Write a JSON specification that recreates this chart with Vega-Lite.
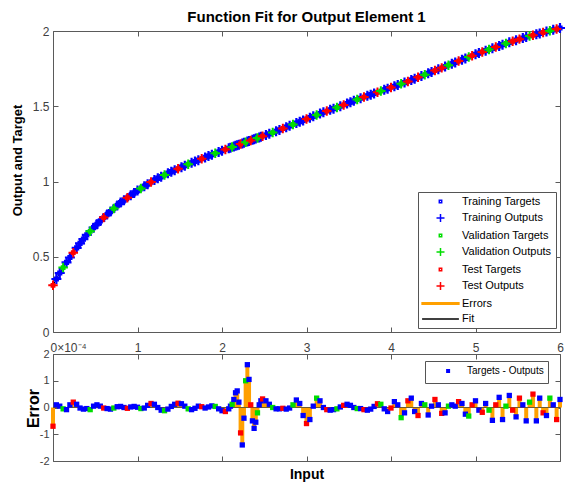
{
  "$schema": "https://vega.github.io/schema/vega-lite/v6.json",
  "autosize": {"type": "pad"},
  "padding": {"left": 10, "top": 9, "right": 0, "bottom": 0},
  "bounds": "flush",
  "spacing": 22,
  "config": {
    "font": "Liberation Sans",
    "view": {"stroke": "#5a5a5a", "strokeWidth": 1},
    "axis": {
      "domain": false, "grid": false, "tickColor": "#5a5a5a", "tickSize": -5, "tickWidth": 1,
      "labelFont": "Liberation Sans", "labelFontSize": 12, "labelColor": "#404040", "labelFlush": false, "labelOverlap": false,
      "titleFont": "Liberation Sans", "titleFontWeight": "bold", "titleColor": "#000000"
    },
    "legend": {"labelFont": "Liberation Sans", "labelColor": "#000000"}
  },
  "datasets": {
    "pts": [
      {"x":0.00,"y":0.310,"e":-0.70,"t":"Test Targets","o":"Test Outputs"},
      {"x":0.04,"y":0.352,"e":0.10,"t":"Training Targets","o":"Training Outputs"},
      {"x":0.08,"y":0.392,"e":0.05,"t":"Training Targets","o":"Training Outputs"},
      {"x":0.12,"y":0.428,"e":-0.05,"t":"Validation Targets","o":"Validation Outputs"},
      {"x":0.16,"y":0.462,"e":-0.08,"t":"Training Targets","o":"Training Outputs"},
      {"x":0.20,"y":0.495,"e":0.10,"t":"Training Targets","o":"Training Outputs"},
      {"x":0.24,"y":0.527,"e":0.20,"t":"Test Targets","o":"Test Outputs"},
      {"x":0.28,"y":0.559,"e":0.12,"t":"Training Targets","o":"Training Outputs"},
      {"x":0.32,"y":0.589,"e":-0.02,"t":"Training Targets","o":"Training Outputs"},
      {"x":0.36,"y":0.617,"e":-0.06,"t":"Training Targets","o":"Training Outputs"},
      {"x":0.40,"y":0.645,"e":-0.04,"t":"Training Targets","o":"Training Outputs"},
      {"x":0.44,"y":0.669,"e":-0.08,"t":"Validation Targets","o":"Validation Outputs"},
      {"x":0.48,"y":0.693,"e":0.05,"t":"Training Targets","o":"Training Outputs"},
      {"x":0.52,"y":0.716,"e":0.10,"t":"Training Targets","o":"Training Outputs"},
      {"x":0.56,"y":0.738,"e":0.05,"t":"Training Targets","o":"Training Outputs"},
      {"x":0.60,"y":0.760,"e":-0.02,"t":"Test Targets","o":"Test Outputs"},
      {"x":0.64,"y":0.780,"e":-0.04,"t":"Training Targets","o":"Training Outputs"},
      {"x":0.68,"y":0.800,"e":-0.06,"t":"Training Targets","o":"Training Outputs"},
      {"x":0.72,"y":0.820,"e":-0.02,"t":"Validation Targets","o":"Validation Outputs"},
      {"x":0.76,"y":0.840,"e":0.03,"t":"Training Targets","o":"Training Outputs"},
      {"x":0.80,"y":0.860,"e":0.04,"t":"Training Targets","o":"Training Outputs"},
      {"x":0.84,"y":0.876,"e":0.00,"t":"Training Targets","o":"Training Outputs"},
      {"x":0.88,"y":0.892,"e":-0.03,"t":"Test Targets","o":"Test Outputs"},
      {"x":0.92,"y":0.908,"e":0.02,"t":"Training Targets","o":"Training Outputs"},
      {"x":0.96,"y":0.924,"e":0.04,"t":"Training Targets","o":"Training Outputs"},
      {"x":1.00,"y":0.940,"e":0.01,"t":"Training Targets","o":"Training Outputs"},
      {"x":1.04,"y":0.954,"e":-0.04,"t":"Validation Targets","o":"Validation Outputs"},
      {"x":1.08,"y":0.968,"e":-0.02,"t":"Training Targets","o":"Training Outputs"},
      {"x":1.12,"y":0.982,"e":0.08,"t":"Training Targets","o":"Training Outputs"},
      {"x":1.16,"y":0.996,"e":0.15,"t":"Test Targets","o":"Test Outputs"},
      {"x":1.20,"y":1.010,"e":0.12,"t":"Training Targets","o":"Training Outputs"},
      {"x":1.24,"y":1.021,"e":0.00,"t":"Training Targets","o":"Training Outputs"},
      {"x":1.28,"y":1.032,"e":-0.10,"t":"Training Targets","o":"Training Outputs"},
      {"x":1.32,"y":1.043,"e":-0.12,"t":"Validation Targets","o":"Validation Outputs"},
      {"x":1.36,"y":1.054,"e":-0.06,"t":"Training Targets","o":"Training Outputs"},
      {"x":1.40,"y":1.065,"e":0.04,"t":"Training Targets","o":"Training Outputs"},
      {"x":1.44,"y":1.075,"e":0.12,"t":"Training Targets","o":"Training Outputs"},
      {"x":1.48,"y":1.085,"e":0.16,"t":"Test Targets","o":"Test Outputs"},
      {"x":1.52,"y":1.095,"e":0.14,"t":"Training Targets","o":"Training Outputs"},
      {"x":1.56,"y":1.105,"e":0.05,"t":"Training Targets","o":"Training Outputs"},
      {"x":1.60,"y":1.115,"e":-0.05,"t":"Validation Targets","o":"Validation Outputs"},
      {"x":1.64,"y":1.124,"e":-0.08,"t":"Training Targets","o":"Training Outputs"},
      {"x":1.68,"y":1.133,"e":-0.03,"t":"Training Targets","o":"Training Outputs"},
      {"x":1.72,"y":1.142,"e":0.05,"t":"Training Targets","o":"Training Outputs"},
      {"x":1.76,"y":1.151,"e":0.03,"t":"Test Targets","o":"Test Outputs"},
      {"x":1.80,"y":1.160,"e":-0.02,"t":"Training Targets","o":"Training Outputs"},
      {"x":1.84,"y":1.169,"e":0.02,"t":"Training Targets","o":"Training Outputs"},
      {"x":1.88,"y":1.178,"e":0.06,"t":"Training Targets","o":"Training Outputs"},
      {"x":1.92,"y":1.187,"e":0.04,"t":"Validation Targets","o":"Validation Outputs"},
      {"x":1.96,"y":1.196,"e":-0.05,"t":"Training Targets","o":"Training Outputs"},
      {"x":2.00,"y":1.205,"e":-0.12,"t":"Training Targets","o":"Training Outputs"},
      {"x":2.04,"y":1.213,"e":-0.15,"t":"Test Targets","o":"Test Outputs"},
      {"x":2.08,"y":1.221,"e":-0.05,"t":"Training Targets","o":"Training Outputs"},
      {"x":2.10,"y":1.225,"e":0.05,"t":"Training Targets","o":"Training Outputs"},
      {"x":2.12,"y":1.229,"e":0.12,"t":"Validation Targets","o":"Validation Outputs"},
      {"x":2.14,"y":1.233,"e":0.30,"t":"Training Targets","o":"Training Outputs"},
      {"x":2.16,"y":1.237,"e":0.55,"t":"Training Targets","o":"Training Outputs"},
      {"x":2.18,"y":1.241,"e":0.62,"t":"Training Targets","o":"Training Outputs"},
      {"x":2.20,"y":1.245,"e":0.20,"t":"Training Targets","o":"Training Outputs"},
      {"x":2.22,"y":1.249,"e":-0.95,"t":"Test Targets","o":"Test Outputs"},
      {"x":2.24,"y":1.253,"e":-1.40,"t":"Training Targets","o":"Training Outputs"},
      {"x":2.26,"y":1.257,"e":-0.40,"t":"Training Targets","o":"Training Outputs"},
      {"x":2.28,"y":1.261,"e":1.00,"t":"Validation Targets","o":"Validation Outputs"},
      {"x":2.30,"y":1.265,"e":1.60,"t":"Training Targets","o":"Training Outputs"},
      {"x":2.32,"y":1.269,"e":1.05,"t":"Training Targets","o":"Training Outputs"},
      {"x":2.34,"y":1.273,"e":0.10,"t":"Test Targets","o":"Test Outputs"},
      {"x":2.36,"y":1.277,"e":-0.50,"t":"Training Targets","o":"Training Outputs"},
      {"x":2.38,"y":1.281,"e":-0.78,"t":"Training Targets","o":"Training Outputs"},
      {"x":2.40,"y":1.285,"e":-0.55,"t":"Training Targets","o":"Training Outputs"},
      {"x":2.42,"y":1.289,"e":-0.20,"t":"Validation Targets","o":"Validation Outputs"},
      {"x":2.44,"y":1.293,"e":0.10,"t":"Training Targets","o":"Training Outputs"},
      {"x":2.46,"y":1.297,"e":0.25,"t":"Training Targets","o":"Training Outputs"},
      {"x":2.48,"y":1.301,"e":0.32,"t":"Test Targets","o":"Test Outputs"},
      {"x":2.52,"y":1.309,"e":0.25,"t":"Training Targets","o":"Training Outputs"},
      {"x":2.56,"y":1.317,"e":0.12,"t":"Training Targets","o":"Training Outputs"},
      {"x":2.60,"y":1.325,"e":0.00,"t":"Validation Targets","o":"Validation Outputs"},
      {"x":2.64,"y":1.334,"e":-0.05,"t":"Training Targets","o":"Training Outputs"},
      {"x":2.68,"y":1.343,"e":-0.05,"t":"Training Targets","o":"Training Outputs"},
      {"x":2.72,"y":1.352,"e":-0.03,"t":"Test Targets","o":"Test Outputs"},
      {"x":2.76,"y":1.361,"e":-0.06,"t":"Training Targets","o":"Training Outputs"},
      {"x":2.80,"y":1.370,"e":-0.02,"t":"Training Targets","o":"Training Outputs"},
      {"x":2.84,"y":1.379,"e":0.10,"t":"Validation Targets","o":"Validation Outputs"},
      {"x":2.88,"y":1.388,"e":0.28,"t":"Training Targets","o":"Training Outputs"},
      {"x":2.92,"y":1.397,"e":0.15,"t":"Training Targets","o":"Training Outputs"},
      {"x":2.96,"y":1.406,"e":-0.30,"t":"Training Targets","o":"Training Outputs"},
      {"x":3.00,"y":1.415,"e":-0.60,"t":"Test Targets","o":"Test Outputs"},
      {"x":3.04,"y":1.424,"e":-0.45,"t":"Training Targets","o":"Training Outputs"},
      {"x":3.08,"y":1.433,"e":0.05,"t":"Training Targets","o":"Training Outputs"},
      {"x":3.12,"y":1.442,"e":0.35,"t":"Validation Targets","o":"Validation Outputs"},
      {"x":3.16,"y":1.451,"e":0.25,"t":"Training Targets","o":"Training Outputs"},
      {"x":3.20,"y":1.460,"e":0.00,"t":"Training Targets","o":"Training Outputs"},
      {"x":3.24,"y":1.468,"e":-0.08,"t":"Test Targets","o":"Test Outputs"},
      {"x":3.28,"y":1.476,"e":-0.10,"t":"Training Targets","o":"Training Outputs"},
      {"x":3.32,"y":1.484,"e":-0.08,"t":"Training Targets","o":"Training Outputs"},
      {"x":3.36,"y":1.492,"e":-0.05,"t":"Validation Targets","o":"Validation Outputs"},
      {"x":3.40,"y":1.500,"e":0.02,"t":"Training Targets","o":"Training Outputs"},
      {"x":3.44,"y":1.509,"e":0.08,"t":"Test Targets","o":"Test Outputs"},
      {"x":3.48,"y":1.518,"e":0.12,"t":"Training Targets","o":"Training Outputs"},
      {"x":3.52,"y":1.527,"e":0.08,"t":"Training Targets","o":"Training Outputs"},
      {"x":3.56,"y":1.536,"e":0.00,"t":"Training Targets","o":"Training Outputs"},
      {"x":3.60,"y":1.545,"e":-0.04,"t":"Validation Targets","o":"Validation Outputs"},
      {"x":3.64,"y":1.553,"e":-0.04,"t":"Training Targets","o":"Training Outputs"},
      {"x":3.68,"y":1.561,"e":-0.08,"t":"Test Targets","o":"Test Outputs"},
      {"x":3.72,"y":1.569,"e":-0.10,"t":"Training Targets","o":"Training Outputs"},
      {"x":3.76,"y":1.577,"e":-0.06,"t":"Training Targets","o":"Training Outputs"},
      {"x":3.80,"y":1.585,"e":0.04,"t":"Training Targets","o":"Training Outputs"},
      {"x":3.84,"y":1.593,"e":0.14,"t":"Test Targets","o":"Test Outputs"},
      {"x":3.88,"y":1.601,"e":0.12,"t":"Validation Targets","o":"Validation Outputs"},
      {"x":3.92,"y":1.609,"e":-0.05,"t":"Training Targets","o":"Training Outputs"},
      {"x":3.96,"y":1.617,"e":-0.15,"t":"Training Targets","o":"Training Outputs"},
      {"x":4.00,"y":1.625,"e":-0.02,"t":"Test Targets","o":"Test Outputs"},
      {"x":4.04,"y":1.633,"e":0.22,"t":"Training Targets","o":"Training Outputs"},
      {"x":4.08,"y":1.641,"e":0.10,"t":"Training Targets","o":"Training Outputs"},
      {"x":4.12,"y":1.649,"e":-0.38,"t":"Validation Targets","o":"Validation Outputs"},
      {"x":4.16,"y":1.657,"e":-0.20,"t":"Training Targets","o":"Training Outputs"},
      {"x":4.20,"y":1.665,"e":0.25,"t":"Test Targets","o":"Test Outputs"},
      {"x":4.24,"y":1.674,"e":0.35,"t":"Training Targets","o":"Training Outputs"},
      {"x":4.28,"y":1.683,"e":-0.15,"t":"Training Targets","o":"Training Outputs"},
      {"x":4.32,"y":1.692,"e":-0.30,"t":"Test Targets","o":"Test Outputs"},
      {"x":4.36,"y":1.701,"e":0.15,"t":"Training Targets","o":"Training Outputs"},
      {"x":4.40,"y":1.710,"e":0.10,"t":"Validation Targets","o":"Validation Outputs"},
      {"x":4.44,"y":1.719,"e":-0.28,"t":"Training Targets","o":"Training Outputs"},
      {"x":4.48,"y":1.728,"e":0.05,"t":"Training Targets","o":"Training Outputs"},
      {"x":4.52,"y":1.737,"e":0.30,"t":"Test Targets","o":"Test Outputs"},
      {"x":4.56,"y":1.746,"e":0.10,"t":"Training Targets","o":"Training Outputs"},
      {"x":4.60,"y":1.755,"e":-0.22,"t":"Test Targets","o":"Test Outputs"},
      {"x":4.64,"y":1.764,"e":-0.20,"t":"Training Targets","o":"Training Outputs"},
      {"x":4.68,"y":1.773,"e":0.05,"t":"Validation Targets","o":"Validation Outputs"},
      {"x":4.72,"y":1.782,"e":0.10,"t":"Training Targets","o":"Training Outputs"},
      {"x":4.76,"y":1.791,"e":0.05,"t":"Training Targets","o":"Training Outputs"},
      {"x":4.80,"y":1.800,"e":0.22,"t":"Test Targets","o":"Test Outputs"},
      {"x":4.84,"y":1.809,"e":0.15,"t":"Training Targets","o":"Training Outputs"},
      {"x":4.88,"y":1.818,"e":-0.25,"t":"Training Targets","o":"Training Outputs"},
      {"x":4.92,"y":1.827,"e":-0.32,"t":"Validation Targets","o":"Validation Outputs"},
      {"x":4.96,"y":1.836,"e":0.10,"t":"Test Targets","o":"Test Outputs"},
      {"x":5.00,"y":1.845,"e":0.25,"t":"Training Targets","o":"Training Outputs"},
      {"x":5.04,"y":1.853,"e":-0.10,"t":"Training Targets","o":"Training Outputs"},
      {"x":5.08,"y":1.861,"e":-0.18,"t":"Test Targets","o":"Test Outputs"},
      {"x":5.12,"y":1.869,"e":0.15,"t":"Training Targets","o":"Training Outputs"},
      {"x":5.16,"y":1.877,"e":-0.10,"t":"Validation Targets","o":"Validation Outputs"},
      {"x":5.20,"y":1.885,"e":-0.48,"t":"Training Targets","o":"Training Outputs"},
      {"x":5.24,"y":1.893,"e":0.10,"t":"Test Targets","o":"Test Outputs"},
      {"x":5.28,"y":1.901,"e":0.38,"t":"Training Targets","o":"Training Outputs"},
      {"x":5.32,"y":1.909,"e":-0.45,"t":"Training Targets","o":"Training Outputs"},
      {"x":5.36,"y":1.917,"e":0.05,"t":"Validation Targets","o":"Validation Outputs"},
      {"x":5.40,"y":1.925,"e":0.45,"t":"Training Targets","o":"Training Outputs"},
      {"x":5.44,"y":1.932,"e":-0.10,"t":"Test Targets","o":"Test Outputs"},
      {"x":5.48,"y":1.939,"e":-0.35,"t":"Training Targets","o":"Training Outputs"},
      {"x":5.52,"y":1.946,"e":0.35,"t":"Test Targets","o":"Test Outputs"},
      {"x":5.56,"y":1.953,"e":0.10,"t":"Training Targets","o":"Training Outputs"},
      {"x":5.60,"y":1.960,"e":-0.50,"t":"Training Targets","o":"Training Outputs"},
      {"x":5.64,"y":1.966,"e":0.20,"t":"Validation Targets","o":"Validation Outputs"},
      {"x":5.68,"y":1.972,"e":0.50,"t":"Test Targets","o":"Test Outputs"},
      {"x":5.72,"y":1.978,"e":-0.50,"t":"Training Targets","o":"Training Outputs"},
      {"x":5.76,"y":1.984,"e":0.35,"t":"Training Targets","o":"Training Outputs"},
      {"x":5.80,"y":1.990,"e":-0.20,"t":"Test Targets","o":"Test Outputs"},
      {"x":5.84,"y":1.996,"e":-0.30,"t":"Training Targets","o":"Training Outputs"},
      {"x":5.88,"y":2.002,"e":0.35,"t":"Validation Targets","o":"Validation Outputs"},
      {"x":5.92,"y":2.008,"e":0.10,"t":"Training Targets","o":"Training Outputs"},
      {"x":5.96,"y":2.014,"e":-0.45,"t":"Test Targets","o":"Test Outputs"},
      {"x":6.00,"y":2.020,"e":0.30,"t":"Training Targets","o":"Training Outputs"}
    ]
  },
  "vconcat": [
    {
      "width": 507,
      "height": 301,
      "title": {"text": "Function Fit for Output Element 1", "font": "Liberation Sans", "fontSize": 15, "fontWeight": "bold", "color": "#000000", "baseline": "alphabetic", "frame": "group", "offset": -18},
      "data": {"name": "pts"},
      "layer": [
        {
          "mark": {"type": "line", "color": "#000000", "strokeWidth": 1},
          "encoding": {
            "x": {"field": "x", "type": "quantitative", "scale": {"domain": [0, 6], "nice": false},
                  "axis": {"orient": "top", "labels": false, "title": null, "values": [0, 1, 2, 3, 4, 5, 6]}},
            "y": {"field": "y", "type": "quantitative", "scale": {"domain": [0, 2], "nice": false},
                  "axis": {"orient": "right", "labels": false, "title": null, "values": [0, 0.5, 1, 1.5, 2]}}
          }
        },
        {
          "transform": [{"fold": ["t", "o"], "as": ["kind", "series"]}, {"filter": "datum.t === 'Training Targets'"}],
          "mark": {"type": "point", "filled": false, "strokeWidth": 2.2, "size": 100, "opacity": 1},
          "encoding": {
            "x": {"field": "x", "type": "quantitative",
                  "axis": {"orient": "bottom", "title": null, "values": [0, 1, 2, 3, 4, 5, 6], "labelPadding": 15,
                           "labelExpr": "datum.value == 0 ? '0×10⁻⁴' : datum.label",
                           "labelAlign": {"condition": {"test": "datum.value == 0", "value": "left"}, "value": "center"},
                           "labelOffset": {"condition": {"test": "datum.value == 0", "value": -3}, "value": 0}}},
            "y": {"field": "y", "type": "quantitative",
                  "axis": {"orient": "left", "title": "Output and Target", "values": [0, 0.5, 1, 1.5, 2], "format": "~g",
                           "labelPadding": 9, "titleFontSize": 13, "titleX": -36, "titleY": 129, "titleBaseline": "middle", "titleAlign": "center"}},
            "color": {"field": "series", "type": "nominal",
                      "scale": {"domain": ["Training Targets", "Training Outputs", "Validation Targets", "Validation Outputs", "Test Targets", "Test Outputs", "Errors", "Fit"],
                                "range": ["#0000ff", "#0000ff", "#00dd00", "#00dd00", "#ff0000", "#ff0000", "#ffa000", "#000000"]},
                      "legend": {"title": null, "orient": "bottom-right", "offset": 4, "padding": 4, "strokeColor": "#555555", "fillColor": "#ffffff",
                                 "labelFontSize": 11, "labelOffset": 16, "symbolOffset": 13, "rowPadding": 3.5, "symbolSize": 64, "symbolStrokeWidth": 1.5}},
            "shape": {"field": "series", "type": "nominal",
                      "scale": {"domain": ["Training Targets", "Training Outputs", "Validation Targets", "Validation Outputs", "Test Targets", "Test Outputs", "Errors", "Fit"],
                                "range": ["M-0.3,-0.3H0.3V0.3H-0.3Z", "M-1,0H1M0,-1V1", "M-0.3,-0.3H0.3V0.3H-0.3Z", "M-1,0H1M0,-1V1", "M-0.3,-0.3H0.3V0.3H-0.3Z", "M-1,0H1M0,-1V1", "M-4.6,-0.2H4.6V0.2H-4.6Z", "M-4.6,0H4.6"]},
                      "legend": {"title": null, "orient": "bottom-right", "offset": 4, "padding": 4, "strokeColor": "#555555", "fillColor": "#ffffff",
                                 "labelFontSize": 11, "labelOffset": 16, "symbolOffset": 13, "rowPadding": 3.5, "symbolSize": 64, "symbolStrokeWidth": 1.5}}
          }
        },
        {
          "transform": [{"fold": ["t", "o"], "as": ["kind", "series"]}, {"filter": "datum.t !== 'Training Targets'"}],
          "mark": {"type": "point", "filled": false, "strokeWidth": 2, "size": 90, "opacity": 1},
          "encoding": {
            "x": {"field": "x", "type": "quantitative", "axis": null},
            "y": {"field": "y", "type": "quantitative", "axis": null},
            "color": {"field": "series", "type": "nominal"},
            "shape": {"field": "series", "type": "nominal"}
          }
        }
      ],
      "resolve": {"axis": {"x": "independent", "y": "independent"}}
    },
    {
      "width": 507,
      "height": 107,
      "data": {"name": "pts"},
      "layer": [
        {
          "mark": {"type": "rule", "color": "#ffa000", "strokeWidth": 4},
          "encoding": {
            "x": {"field": "x", "type": "quantitative", "scale": {"domain": [0, 6], "nice": false},
                  "axis": {"orient": "bottom", "labels": false, "title": "Input", "values": [0, 1, 2, 3, 4, 5, 6], "titleFontSize": 14, "titlePadding": 6}},
            "y": {"field": "e", "type": "quantitative", "scale": {"domain": [-2, 2], "nice": false},
                  "axis": {"orient": "left", "title": "Error", "values": [-2, -1, 0, 1, 2], "labelExpr": "'' + datum.value", "labelFontSize": 11,
                           "labelPadding": 9, "titleFontSize": 16, "titleX": -20, "titleY": 54, "titleBaseline": "middle", "titleAlign": "center"}},
            "y2": {"datum": 0}
          }
        },
        {
          "mark": {"type": "rule", "color": "#6e5a2e", "strokeWidth": 1},
          "encoding": {
            "y": {"datum": 0, "type": "quantitative",
                  "axis": {"orient": "right", "labels": false, "title": null, "values": [-2, -1, 0, 1, 2]}}
          }
        },
        {
          "mark": {"type": "point", "shape": "square", "filled": true, "size": 28, "opacity": 1, "strokeWidth": 0},
          "encoding": {
            "x": {"field": "x", "type": "quantitative",
                  "axis": {"orient": "top", "labels": false, "title": null, "values": [0, 1, 2, 3, 4, 5, 6]}},
            "y": {"field": "e", "type": "quantitative", "axis": null},
            "color": {"field": "t", "type": "nominal",
                      "scale": {"domain": ["Training Targets", "Validation Targets", "Test Targets"], "range": ["#0000ff", "#00dd00", "#ff0000"]},
                      "legend": null},
            "stroke": {"datum": "Targets - Outputs", "type": "nominal", "scale": {"range": ["#0000ff"]},
                       "legend": {"title": null, "orient": "none", "legendX": 372, "legendY": 7, "padding": 4, "strokeColor": "#555555", "fillColor": "#ffffff",
                                  "labelFontSize": 10, "labelOffset": 13, "symbolOffset": 13, "symbolSize": 64,
                                  "symbolType": "M-4.6,0H4.6", "symbolStrokeWidth": 4, "symbolDash": [0, 16.5, 4, 100],
                                  "symbolFillColor": "transparent", "symbolStrokeColor": "#0000ff"}}
          }
        }
      ],
      "resolve": {"axis": {"x": "independent", "y": "independent"}}
    }
  ],
  "resolve": {
    "scale": {"color": "independent", "shape": "independent", "stroke": "independent"},
    "legend": {"color": "independent", "shape": "independent", "stroke": "independent"}
  }
}
